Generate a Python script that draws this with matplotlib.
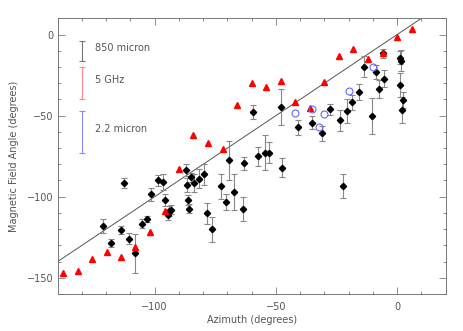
import matplotlib
matplotlib.use("Agg")
import matplotlib.pyplot as plt
import numpy as np
from matplotlib.ticker import MultipleLocator

# 850 micron (black diamonds with error bars)
az_850 = [-121.4, -118.2, -112.5, -113.9, -110.7, -108.1, -105.2, -103.0, -101.4, -98.6,
          -96.7, -95.7, -94.7, -93.9, -93.4, -87.2, -86.8, -86.4, -85.7, -84.9,
          -83.8, -81.6, -79.7, -78.3, -76.3, -72.8, -70.5, -69.5, -67.4, -63.4,
          -63.2, -59.5, -57.6, -54.7, -52.7, -47.5, -48.0, -40.7, -35.1, -30.9,
          -27.6, -23.7, -22.3, -20.9, -18.5, -15.9, -13.7, -10.4, -8.6, -7.3,
          -6.0, -5.5, 1.2, 1.5, 1.1, 2.3, 1.8]
ang_850 = [-118.3, -128.8, -91.4, -120.8, -125.9, -134.8, -116.7, -113.8, -98.4, -90.0,
           -90.8, -102.1, -111.4, -108.7, -107.9, -83.6, -92.9, -101.9, -107.3, -88.1,
           -91.4, -88.8, -86.3, -110.3, -120.2, -93.7, -103.4, -77.5, -97.2, -107.5,
           -79.5, -47.9, -75.2, -72.9, -72.9, -82.2, -44.8, -57.3, -54.4, -61.0,
           -46.2, -53.0, -93.5, -47.3, -41.9, -35.3, -19.9, -50.3, -23.0, -33.5,
           -11.7, -27.3, -14.2, -16.2, -31.2, -40.3, -46.4]
err_850 = [4.3, 2.5, 3.0, 2.5, 3.5, 12.0, 2.8, 2.0, 4.0, 3.3,
           5.0, 3.5, 2.8, 3.0, 3.0, 3.5, 4.5, 3.0, 3.0, 3.0,
           5.5, 6.0, 6.5, 6.5, 7.5, 8.0, 5.0, 12.0, 11.0, 7.5,
           4.0, 4.3, 6.0, 10.7, 6.5, 5.8, 11.0, 4.5, 4.0, 4.8,
           3.3, 6.5, 7.5, 7.5, 4.5, 5.0, 6.5, 11.0, 4.5, 5.5,
           3.0, 5.3, 4.0, 6.5, 7.5, 5.0, 8.0]

# 5 GHz (red triangles)
az_5ghz = [-137.7, -131.7, -125.7, -119.8, -113.9, -108.0, -101.8, -95.9, -89.8, -84.0,
           -77.9, -72.0, -66.0, -59.9, -54.0, -48.0, -42.0, -35.9, -30.0, -24.0,
           -18.1, -12.1, -6.0, 0.0, 6.0]
ang_5ghz = [-147.3, -145.7, -138.5, -134.2, -137.3, -130.9, -121.6, -108.7, -83.0, -62.1,
            -66.8, -70.7, -43.6, -29.8, -32.1, -28.4, -41.5, -45.6, -29.2, -13.2,
            -9.2, -14.8, -11.7, -1.4, 3.1]

# 2.2 micron (blue open circles)
az_22 = [-42.0, -35.0, -32.1, -30.0, -20.0, -10.0]
ang_22 = [-48.1, -46.0, -56.9, -48.9, -34.9, -19.9]

one_to_one = [-140, 10]

txt = '#555555'
plt.rcParams['font.family'] = 'DejaVu Sans'
plt.rcParams['font.size'] = 7

fig = plt.figure(figsize=(4.63, 3.31), dpi=100)
ax = fig.add_axes([0.1246, 0.1118, 0.838, 0.8329])

ax.plot(one_to_one, one_to_one, color='#555555', lw=0.7, zorder=1)

ax.errorbar(az_850, ang_850, yerr=err_850, fmt='none', ecolor='#888888',
            elinewidth=0.8, capsize=2, capthick=0.8, zorder=2)
ax.plot(az_850, ang_850, 'D', color='black', ms=3.2, zorder=3)
ax.plot(az_5ghz, ang_5ghz, '^', color='red', ms=4.5, mec='red', zorder=4)
ax.plot(az_22, ang_22, 'o', mfc='none', mec='#6666ff', mew=0.8, ms=5, zorder=5)

# key on the left
key_x = -130
key_bars = [(-3.9, -16.2, '#777777', '850 micron', -8.2),
            (-19.9, -39.9, '#ff8888', '5 GHz', -28.1),
            (-47.1, -72.9, '#8888ff', '2.2 micron', -58.1)]
for top, bot, col, lab, ly in key_bars:
    mid = (top + bot) / 2
    ax.errorbar([key_x], [mid], yerr=[(top - bot) / 2], fmt='none', ecolor=col,
                elinewidth=0.8, capsize=2, capthick=0.8)
    ax.text(-124.7, ly, lab, color=txt, fontsize=7, va='center', ha='left')

ax.set_xlim(-140, 20)
ax.set_ylim(-160, 10)
ax.xaxis.set_major_locator(MultipleLocator(50))
ax.xaxis.set_minor_locator(MultipleLocator(10))
ax.yaxis.set_major_locator(MultipleLocator(50))
ax.yaxis.set_minor_locator(MultipleLocator(10))
ax.tick_params(which='both', direction='in', top=True, right=True, colors='#777777',
               labelcolor=txt, labelsize=7, width=0.6)
ax.tick_params(which='major', length=5)
ax.tick_params(axis='x', which='major', pad=6)
ax.tick_params(axis='y', which='major', pad=3)
ax.tick_params(which='minor', length=2.5)
for s in ax.spines.values():
    s.set_color('#777777')
    s.set_linewidth(0.7)

ax.set_xlabel('Azimuth (degrees)', color=txt, fontsize=7, labelpad=2)
ax.set_ylabel('Magnetic Field Angle (degrees)', color=txt, fontsize=7, labelpad=6)

fig.savefig('out.png', dpi=100)
